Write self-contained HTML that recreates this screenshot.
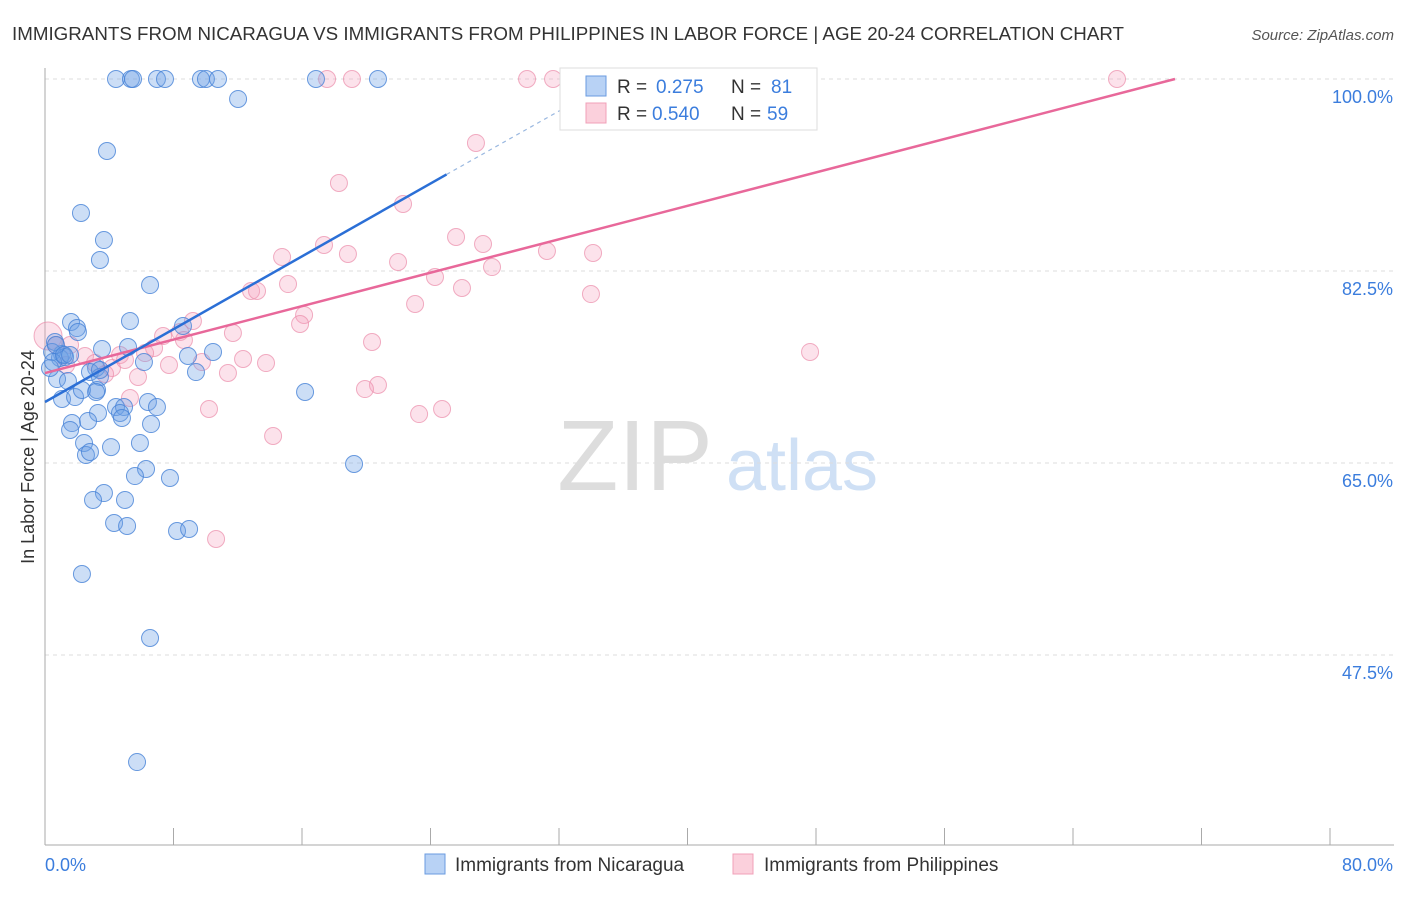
<!DOCTYPE html>
<html><head><meta charset="utf-8"><style>
body{margin:0;background:#fff;font-family:"Liberation Sans",sans-serif;}
svg text{font-family:"Liberation Sans",sans-serif;}
</style></head><body>
<svg id="chart" width="1406" height="892">
<text x="12" y="40" font-size="18" fill="#333" textLength="1112" lengthAdjust="spacingAndGlyphs">IMMIGRANTS FROM NICARAGUA VS IMMIGRANTS FROM PHILIPPINES IN LABOR FORCE | AGE 20-24 CORRELATION CHART</text>
<text x="1394" y="40" font-size="15" fill="#555" text-anchor="end" font-style="italic">Source: ZipAtlas.com</text>
<g>
<text x="635" y="490" font-size="100" fill="#ddd" text-anchor="middle" font-family="Liberation Serif">ZIP</text>
<text x="802" y="490" font-size="72" fill="#cfe0f5" text-anchor="middle">atlas</text>
</g>
<g id="grid"></g><g id="axes"></g><g id="marks"></g>
<g>
<rect x="560" y="68" width="257" height="62" fill="#fff" stroke="#ddd"/>
<rect x="586" y="76" width="20" height="20" fill="#b8d2f5" stroke="#6a9be0"/>
<text x="617" y="93" font-size="19" fill="#333">R =</text>
<text x="656" y="93" font-size="19" fill="#3b7ddd">0.275</text>
<text x="731" y="93" font-size="19" fill="#333">N =</text>
<text x="771" y="93" font-size="19" fill="#3b7ddd">81</text>
<rect x="586" y="103" width="20" height="20" fill="#fbd0dc" stroke="#f0a0b8"/>
<text x="617" y="120" font-size="19" fill="#333">R =</text>
<text x="652" y="120" font-size="19" fill="#3b7ddd">0.540</text>
<text x="731" y="120" font-size="19" fill="#333">N =</text>
<text x="767" y="120" font-size="19" fill="#3b7ddd">59</text>
</g>
<g>
<rect x="425" y="854" width="20" height="20" fill="#b8d2f5" stroke="#6a9be0"/>
<text x="455" y="871" font-size="19" fill="#333">Immigrants from Nicaragua</text>
<rect x="733" y="854" width="20" height="20" fill="#fbd0dc" stroke="#f0a0b8"/>
<text x="764" y="871" font-size="19" fill="#333">Immigrants from Philippines</text>
</g>
</svg>
<script>
const xTicks=[0,8,16,24,32,40,48,56,64,72,80];
const yTicks=[47.5,65,82.5,100];
const yTickLabels=["47.5%","65.0%","82.5%","100.0%"];
const xEndLabels=["0.0%","80.0%"];
const blueX=[4.42,5.35,5.48,6.97,7.47,9.71,10.02,10.77,16.87,20.73,12.02,3.86,2.24,3.67,3.42,6.54,1.62,5.29,1.99,2.05,8.59,0.62,1.06,0.93,0.44,1.25,3.55,5.17,6.16,8.90,10.46,9.40,3.18,2.80,3.42,0.75,1.43,1.06,1.87,3.24,16.19,6.41,6.97,4.42,4.92,4.67,3.30,1.68,1.56,2.68,6.60,4.79,2.43,5.91,4.11,2.55,2.80,19.24,6.29,7.78,5.60,3.67,2.99,4.98,4.30,5.11,8.22,8.97,2.30,6.54,5.73,0.68,0.31,0.50,1.18,1.56,3.42,2.30,3.18];
const blueY=[100,100,100,100,100,100,100,100,100,100,98.18,93.44,87.79,85.32,83.50,81.22,77.85,77.94,77.30,76.94,77.49,76.03,74.93,74.57,75.12,74.66,75.39,75.57,74.20,74.75,75.12,73.29,73.66,73.29,72.84,72.65,72.47,70.83,71.01,71.65,71.47,70.56,70.10,70.10,70.10,69.56,69.56,68.64,68.01,68.83,68.55,69.10,66.82,66.82,66.45,65.73,66.00,64.91,64.45,63.63,63.81,62.26,61.63,61.63,59.53,59.26,58.80,58.98,54.88,49.05,37.74,75.75,73.66,74.20,74.84,74.84,73.48,71.65,71.47];
const pinkX=[17.56,19.11,30.01,31.63,66.74,26.83,18.30,22.29,25.59,27.27,17.37,18.86,21.98,14.76,31.25,34.12,27.83,24.28,25.96,12.83,13.20,15.13,33.99,23.04,16.13,15.88,9.21,8.41,7.35,11.70,20.36,47.63,6.79,6.23,8.65,4.67,9.77,12.33,13.76,7.72,11.39,5.79,4.17,20.73,19.92,10.21,23.29,24.72,14.20,10.65,5.29,0.19,0.68,1.56,2.49,1.31,3.74,3.11,4.98];
const pinkY=[100,100,100,100,100,94.17,90.52,88.61,85.60,84.96,84.87,84.05,83.32,83.78,84.32,84.14,82.86,81.95,80.95,80.68,80.68,81.31,80.40,79.49,78.49,77.67,77.94,76.94,76.57,76.85,76.03,75.12,75.48,75.02,76.21,74.84,74.20,74.48,74.11,73.93,73.20,72.84,73.66,72.11,71.74,69.92,69.46,69.92,67.46,58.07,70.92,76.57,75.75,75.75,74.75,73.93,73.11,74.11,74.39];
const blueTrend=[0,70.56,25.0,91.3,33.6,98.4];
const pinkTrend=[0,73.2,70.35,100];
const X0=45,X1=1330,Y100=79,PX=10.971;
const sx=v=>X0+v/80*(X1-X0);
const sy=v=>Y100+(100-v)*PX;
const NS="http://www.w3.org/2000/svg";
function mk(tag,attrs,parent){const e=document.createElementNS(NS,tag);for(const k in attrs)e.setAttribute(k,attrs[k]);parent.appendChild(e);return e;}
const grid=document.getElementById('grid'),axes=document.getElementById('axes'),marks=document.getElementById('marks');
yTicks.forEach((t,i)=>{
 const l=mk('line',{x1:X0,x2:1394,y1:sy(t),y2:sy(t),stroke:'#ddd','stroke-dasharray':'4,4'},grid);
 
 
 const tx=mk('text',{x:1393,y:sy(t)+24,'font-size':18,fill:'#3b7ddd','text-anchor':'end'},axes);
 tx.textContent=yTickLabels[i];
 
 
});
const ax=mk('line',{x1:X0,x2:X0,y1:68,y2:845,stroke:'#aaa'},axes);


const bx=mk('line',{x1:X0,x2:1394,y1:845,y2:845,stroke:'#aaa'},axes);


xTicks.forEach(t=>{
 const l=mk('line',{x1:sx(t),x2:sx(t),y1:828,y2:845,stroke:'#aaa'},axes);
 
 
});
[[X0,'start',0],[1393,'end',1]].forEach(([x,a,i])=>{
 const tx=mk('text',{x:x,y:871,'font-size':18,fill:'#3b7ddd','text-anchor':a},axes);
 tx.textContent=xEndLabels[i];
 
 
});
const yt=mk('text',{x:34,y:457,'font-size':18,fill:'#333','text-anchor':'middle',transform:'rotate(-90 34 457)'},axes);
yt.textContent='In Labor Force | Age 20-24';


pinkX.forEach((v,i)=>{
 const c=mk('circle',{cx:sx(v),cy:sy(pinkY[i]),r:(i==51?14:8.5),fill:'rgba(245,160,190,0.3)',stroke:'rgba(235,140,170,0.7)','stroke-width':1},marks);
 
 
});
blueX.forEach((v,i)=>{
 const c=mk('circle',{cx:sx(v),cy:sy(blueY[i]),r:8.5,fill:'rgba(110,160,230,0.35)',stroke:'rgba(70,130,215,0.8)','stroke-width':1},marks);
 
 
});
const pl=mk('line',{x1:sx(pinkTrend[0]),y1:sy(pinkTrend[1]),x2:sx(pinkTrend[2]),y2:sy(pinkTrend[3]),stroke:'#e8689a','stroke-width':2.5},marks);


const bl=mk('line',{x1:sx(blueTrend[0]),y1:sy(blueTrend[1]),x2:sx(blueTrend[2]),y2:sy(blueTrend[3]),stroke:'#2b6fd6','stroke-width':2.5},marks);


const bd=mk('line',{x1:sx(blueTrend[2]),y1:sy(blueTrend[3]),x2:sx(blueTrend[4]),y2:sy(blueTrend[5]),stroke:'#9ab8e0','stroke-width':1.2,'stroke-dasharray':'4,4'},marks);


</script>
</body></html>
